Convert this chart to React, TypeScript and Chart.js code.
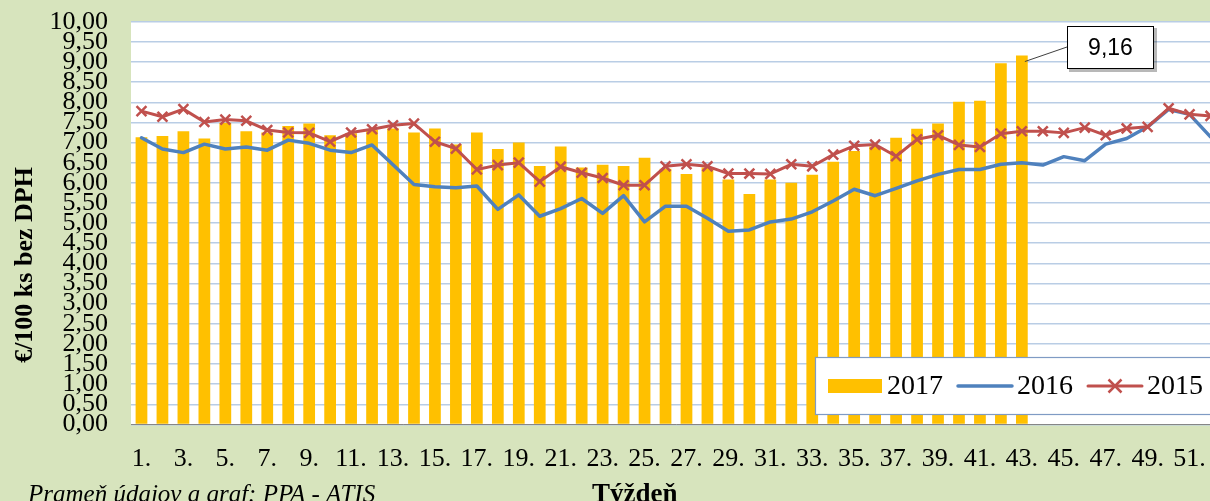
import React, { useEffect, useRef } from "react";
import { Chart, registerables } from "chart.js";

Chart.register(...registerables);

const weekLabels = [
  "1.", "2.", "3.", "4.", "5.", "6.", "7.", "8.", "9.", "10.",
  "11.", "12.", "13.", "14.", "15.", "16.", "17.", "18.", "19.", "20.",
  "21.", "22.", "23.", "24.", "25.", "26.", "27.", "28.", "29.", "30.",
  "31.", "32.", "33.", "34.", "35.", "36.", "37.", "38.", "39.", "40.",
  "41.", "42.", "43.", "44.", "45.", "46.", "47.", "48.", "49.", "50.",
  "51.", "52.",
];

const prices2017 = [
  7.13, 7.16, 7.28, 7.10, 7.49, 7.28, 7.25, 7.41, 7.47, 7.18,
  7.23, 7.32, 7.35, 7.25, 7.35, 6.95, 7.25, 6.84, 7.00, 6.42,
  6.90, 6.38, 6.45, 6.42, 6.62, 6.35, 6.22, 6.38, 6.08, 5.72,
  6.08, 6.00, 6.20, 6.52, 6.79, 6.90, 7.12, 7.34, 7.47, 8.01,
  8.04, 8.97, 9.16,
];

const prices2016 = [
  7.12, 6.84, 6.75, 6.96, 6.84, 6.89, 6.81, 7.06, 6.98, 6.81,
  6.75, 6.94, 6.45, 5.96, 5.90, 5.88, 5.92, 5.34, 5.70, 5.17,
  5.36, 5.61, 5.24, 5.68, 5.03, 5.42, 5.42, 5.12, 4.80, 4.83,
  5.03, 5.10, 5.28, 5.55, 5.84, 5.68, 5.86, 6.05, 6.21, 6.33,
  6.33, 6.46, 6.50, 6.44, 6.65, 6.55, 6.96, 7.10, 7.39, 7.82,
  7.70, 7.14,
];

const prices2015 = [
  7.78, 7.64, 7.83, 7.51, 7.57, 7.54, 7.31, 7.25, 7.24, 7.02,
  7.25, 7.33, 7.43, 7.47, 7.02, 6.85, 6.33, 6.44, 6.50, 6.03,
  6.40, 6.25, 6.12, 5.94, 5.94, 6.41, 6.46, 6.41, 6.23, 6.23,
  6.22, 6.46, 6.41, 6.70, 6.92, 6.95, 6.66, 7.08, 7.18, 6.94,
  6.89, 7.22, 7.28, 7.28, 7.24, 7.37, 7.18, 7.35, 7.39, 7.85,
  7.70, 7.66,
];

const seriesNames = ["2017", "2016", "2015"];
const calloutIndex = 42;
const calloutText = "9,16";
const yAxisTitle = "€/100 ks bez DPH";
const xAxisTitle = "Týždeň";
const sourceText = "Prameň údajov a graf: PPA - ATIS";

const SERIF = "'Liberation Serif', 'Times New Roman', serif";
const C_BAR = "#FFC000";
const C_BLUE = "#4F81BD";
const C_RED = "#C0504D";

const drawCross = (ctx: CanvasRenderingContext2D, x: number, y: number, r: number) => {
  ctx.beginPath();
  ctx.moveTo(x - r, y - r);
  ctx.lineTo(x + r, y + r);
  ctx.moveTo(x - r, y + r);
  ctx.lineTo(x + r, y - r);
  ctx.stroke();
};

const decorPlugin = {
  id: "decor",
  beforeDraw(chart: any) {
    const { ctx, chartArea } = chart;
    ctx.save();
    ctx.fillStyle = "#FFFFFF";
    ctx.fillRect(chartArea.left, chartArea.top, chartArea.right - chartArea.left, chartArea.bottom - chartArea.top);
    ctx.restore();
  },
  afterDraw(chart: any) {
    const { ctx } = chart;
    ctx.save();

    // Callout for last 2017 bar
    const el = chart.getDatasetMeta(0).data[calloutIndex];
    if (el) {
      const bx = 1067, by = 26, bw = 87, bh = 43;
      ctx.strokeStyle = "#404040";
      ctx.lineWidth = 1;
      ctx.beginPath();
      ctx.moveTo(el.x + 3, el.y + 6);
      ctx.lineTo(bx, by + 21);
      ctx.stroke();
      ctx.fillStyle = "rgba(0,0,0,0.28)";
      ctx.fillRect(bx + 2, by + 2, bw + 1, bh + 1);
      ctx.fillStyle = "#FFFFFF";
      ctx.fillRect(bx, by, bw, bh);
      ctx.strokeStyle = "#000000";
      ctx.lineWidth = 1;
      ctx.strokeRect(bx + 0.5, by + 0.5, bw - 1, bh - 1);
      ctx.fillStyle = "#000000";
      ctx.font = "23px 'Liberation Sans', Arial, sans-serif";
      ctx.textAlign = "center";
      ctx.textBaseline = "middle";
      ctx.fillText(calloutText, bx + bw / 2, by + bh / 2 + 1);
    }

    // Legend
    const lx = 815, ly = 357, lw = 440, lh = 58;
    ctx.fillStyle = "#FFFFFF";
    ctx.fillRect(lx, ly, lw, lh);
    ctx.strokeStyle = "#7F9BC4";
    ctx.lineWidth = 1.2;
    ctx.strokeRect(lx + 0.5, ly + 0.5, lw, lh - 1);
    const cy = 386;
    ctx.font = `28px ${SERIF}`;
    ctx.textAlign = "left";
    ctx.textBaseline = "middle";
    ctx.fillStyle = C_BAR;
    ctx.fillRect(828, 379, 54, 14);
    ctx.fillStyle = "#000";
    ctx.fillText(seriesNames[0], 887, cy + 1);
    ctx.strokeStyle = C_BLUE;
    ctx.lineWidth = 3.5;
    ctx.lineCap = "round";
    ctx.beginPath();
    ctx.moveTo(958, cy);
    ctx.lineTo(1012, cy);
    ctx.stroke();
    ctx.fillText(seriesNames[1], 1017, cy + 1);
    ctx.strokeStyle = C_RED;
    ctx.lineWidth = 3;
    ctx.beginPath();
    ctx.moveTo(1088, cy);
    ctx.lineTo(1142, cy);
    ctx.stroke();
    ctx.lineWidth = 2.5;
    ctx.lineCap = "butt";
    drawCross(ctx, 1115, cy, 6.5);
    ctx.fillText(seriesNames[2], 1147, cy + 1);

    // Y axis title
    ctx.save();
    ctx.translate(25, 265);
    ctx.rotate(-Math.PI / 2);
    ctx.font = `bold 26px ${SERIF}`;
    ctx.textAlign = "center";
    ctx.textBaseline = "middle";
    ctx.fillStyle = "#000";
    ctx.fillText(yAxisTitle, 0, 0);
    ctx.restore();

    // X axis title
    ctx.font = `bold 27px ${SERIF}`;
    ctx.textAlign = "left";
    ctx.textBaseline = "alphabetic";
    ctx.fillStyle = "#000";
    ctx.fillText(xAxisTitle, 592, 502);

    // Source
    ctx.font = `italic 25px ${SERIF}`;
    ctx.fillText(sourceText, 28, 502);

    ctx.restore();
  },
};

export default function App() {
  const canvasRef = useRef<HTMLCanvasElement | null>(null);

  useEffect(() => {
    const canvas = canvasRef.current;
    if (!canvas) return;
    const chart = new Chart(canvas, {
      type: "bar",
      data: {
        labels: weekLabels,
        datasets: [
          {
            type: "bar",
            label: seriesNames[0],
            data: prices2017,
            backgroundColor: C_BAR,
            barPercentage: 0.56,
            categoryPercentage: 1.0,
            order: 3,
          },
          {
            type: "line",
            label: seriesNames[1],
            data: prices2016,
            borderColor: C_BLUE,
            backgroundColor: C_BLUE,
            borderWidth: 3.5,
            pointRadius: 0,
            tension: 0,
            borderJoinStyle: "round",
            borderCapStyle: "round",
            order: 2,
          },
          {
            type: "line",
            label: seriesNames[2],
            data: prices2015,
            borderColor: C_RED,
            backgroundColor: C_RED,
            borderWidth: 3,
            pointStyle: "crossRot",
            pointRadius: 7,
            pointBorderWidth: 2.5,
            pointBorderColor: C_RED,
            tension: 0,
            borderJoinStyle: "round",
            order: 1,
          },
        ] as any,
      },
      options: {
        animation: false,
        responsive: false,
        devicePixelRatio: 1,
        events: [],
        layout: { padding: { top: 21.7, right: 19, left: 0, bottom: 0 } },
        plugins: {
          legend: { display: false },
          tooltip: { enabled: false },
          title: { display: false },
        },
        scales: {
          x: {
            grid: { display: false },
            border: { display: true, color: "#868686", width: 1 },
            ticks: {
              autoSkip: false,
              maxRotation: 0,
              minRotation: 0,
              padding: 11,
              color: "#000",
              font: { family: SERIF, size: 26 },
              callback: (_v: any, i: number) => (i % 2 === 0 ? weekLabels[i] : ""),
            },
            afterFit: (s: any) => {
              s.height = 76.5;
              s.paddingLeft = 0;
              s.paddingRight = 0;
            },
          },
          y: {
            min: 0,
            max: 10,
            grid: { color: "#B9CDE5", lineWidth: 1.5, drawTicks: false },
            border: { display: false },
            ticks: {
              stepSize: 0.5,
              autoSkip: false,
              padding: 23,
              color: "#000",
              font: { family: SERIF, size: 26 },
              callback: (v: any) => Number(v).toFixed(2).replace(".", ","),
            },
            afterFit: (s: any) => {
              s.width = 131;
              s.paddingTop = 0;
              s.paddingBottom = 0;
            },
          },
        },
      } as any,
      plugins: [decorPlugin],
    });
    return () => chart.destroy();
  }, []);

  return (
    <div
      style={{
        position: "absolute",
        left: 0,
        top: 0,
        width: 1210,
        height: 501,
        overflow: "hidden",
        background: "#D7E4BD",
      }}
    >
      <canvas ref={canvasRef} width={1240} height={501} style={{ display: "block", width: 1240, height: 501 }} />
    </div>
  );
}
